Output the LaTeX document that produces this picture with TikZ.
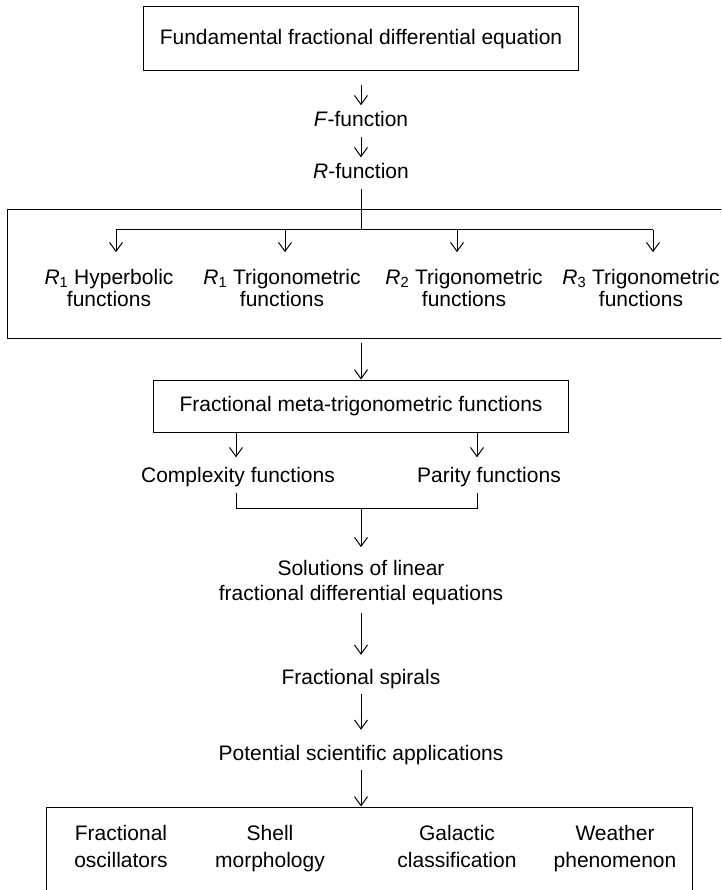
\documentclass[tikz,border=0pt]{standalone}
\usepackage{fontspec}
\setmainfont{Liberation Sans}
\usetikzlibrary{arrows.meta}
\newcommand{\Rsub}[1]{\textit{R}\textsubscript{#1}}

\begin{document}
\begin{tikzpicture}
                \tikzset{x=1pt, y=-1pt, every node/.append style={font=\fontsize{21}{25}\selectfont}}
                \tikzstyle{box}=[rectangle, draw, line width=1pt, inner sep=0pt]
                \tikzstyle{txt}=[inner xsep=0pt, inner ysep=6pt, text height=15pt, text depth=4pt, align=center]
                \tikzstyle{multi}=[inner sep=0pt, text depth=4pt, align=center]
                \tikzstyle{rlab}=[multi, font=\fontsize{21}{22}\selectfont]
                \tikzstyle{alab}=[multi, font=\fontsize{21}{27}\selectfont]
                \tikzstyle{arr}=[line width=1pt, -{Straight Barb[length=9pt, width=13pt]}]

                \clip (0, 0) rectangle (721, 890);

                \draw (361.0, 39.0)     node[box, minimum width=435pt, minimum height=64pt] (fde)   {Fundamental fractional differential equation};
                \draw (361.0, 121.0)    node[txt]   (ffun)  {\textit{F}-function};
                \draw (361.0, 173.0)    node[txt]   (rfun)  {\textit{R}-function};

                \draw (371.0, 274.0)    node[box, minimum width=728pt, minimum height=128pt] (rbox) {};
                \draw (109.0, 290.0)    node[rlab]  (r1)    {\Rsub{1} Hyperbolic\\functions};
                \draw (282.0, 290.0)    node[rlab]  (r2)    {\Rsub{1} Trigonometric\\functions};
                \draw (464.0, 290.0)    node[rlab]  (r3)    {\Rsub{2} Trigonometric\\functions};
                \draw (641.0, 290.0)    node[rlab]  (r4)    {\Rsub{3} Trigonometric\\functions};

                \draw (361.0, 406.0)    node[box, minimum width=415pt, minimum height=52pt] (meta)  {Fractional meta-trigonometric functions};
                \draw (238.0, 477.0)    node[txt]   (cplx)  {Complexity functions};
                \draw (489.0, 477.0)    node[txt]   (par)   {Parity functions};

                \draw (361.0, 582.5)    node[multi] (sol)   {Solutions of linear\\fractional differential equations};
                \draw (361.0, 678.5)    node[txt]   (spir)  {Fractional spirals};
                \draw (361.0, 754.5)    node[txt]   (pot)   {Potential scientific applications};

                \draw (369.0, 853.5)    node[box, minimum width=646pt, minimum height=93pt] (apps) {};
                \draw (121.0, 848.5)    node[alab]  (a1)    {Fractional\\oscillators};
                \draw (270.0, 848.5)    node[alab]  (a2)    {Shell\\morphology};
                \draw (457.0, 848.5)    node[alab]  (a3)    {Galactic\\classification};
                \draw (615.0, 848.5)    node[alab]  (a4)    {Weather\\phenomenon};

                \coordinate (rsplit) at (361, 230);
                \coordinate (b1) at (116, 230);
                \coordinate (b2) at (285, 230);
                \coordinate (b3) at (457, 230);
                \coordinate (b4) at (653, 230);
                \coordinate (cl) at (236, 508);
                \coordinate (cr) at (477, 508);
                \coordinate (merge) at (361, 508);

                \draw [arr, shorten <=14pt]             (fde) -- (ffun);
                \draw [arr]                             (ffun) -- (rfun);
                \draw [line width=1pt]                  (rfun) -- (rsplit);
                \draw [line width=1pt]                  (b1) -- (b4);
                \draw [arr, shorten >=17pt]             (b1) -- (b1 |- r1.north);
                \draw [arr, shorten >=17pt]             (b2) -- (b2 |- r2.north);
                \draw [arr, shorten >=17pt]             (b3) -- (b3 |- r3.north);
                \draw [arr, shorten >=17pt]             (b4) -- (b4 |- r4.north);
                \draw [arr, shorten <=4pt]              (rbox.south -| meta.north) -- (meta.north);
                \draw [arr, shorten >=4pt]              (meta.south -| cl) -- (cplx.north -| cl);
                \draw [arr, shorten >=4pt]              (meta.south -| cr) -- (par.north -| cr);
                \draw [line width=1pt]                  (cplx.south -| cl) -- (cl) -- (cr) -- (par.south -| cr);
                \draw [arr, shorten >=13pt]             (merge) -- (sol);
                \draw [arr, shorten <=8pt, shorten >=8pt] (sol) -- (spir);
                \draw [arr, shorten >=9pt]              (spir) -- (pot);
                \draw [arr]                             (pot) -- (pot |- apps.north);
            \end{tikzpicture}
\end{document}
